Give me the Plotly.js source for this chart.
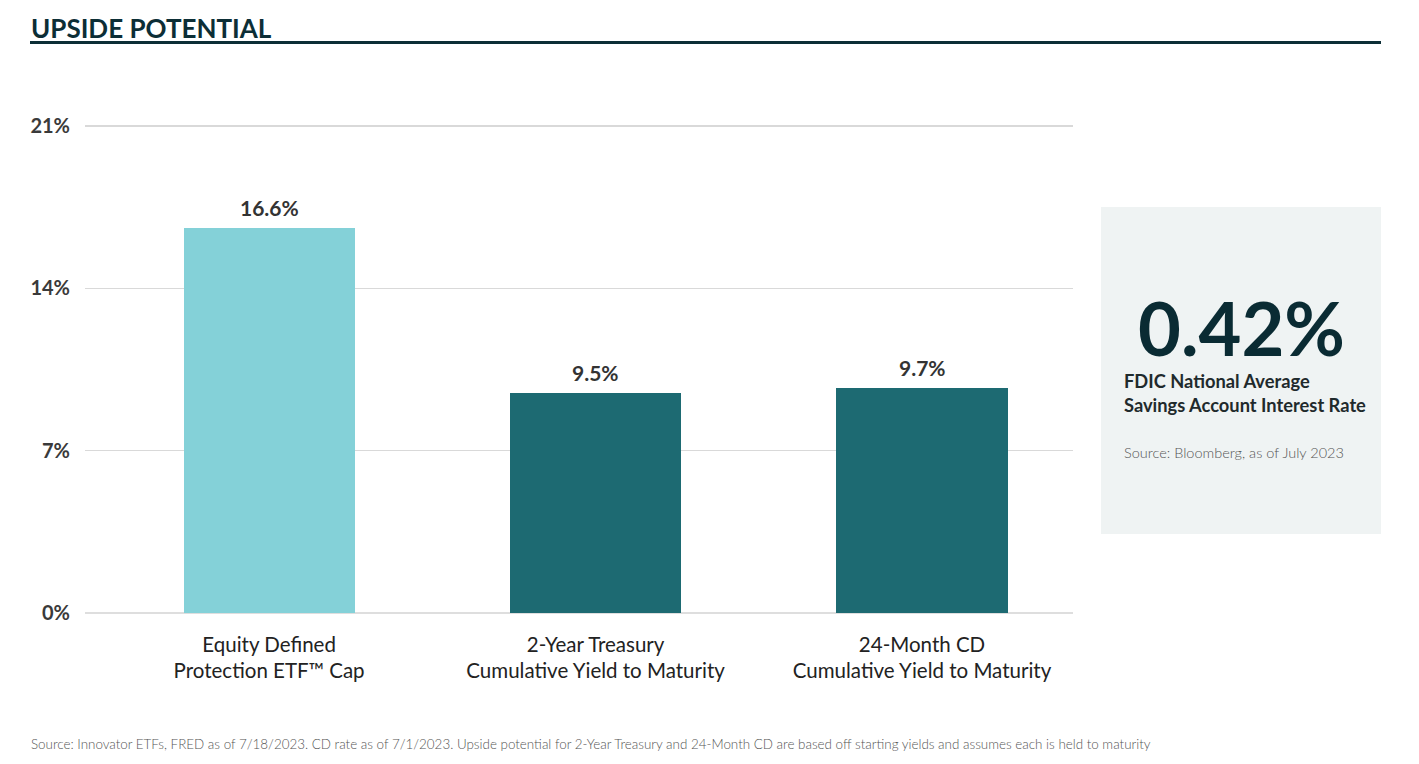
<!DOCTYPE html>
<html>
<head>
<meta charset="utf-8">
<script src="https://cdn.plot.ly/plotly-3.0.1.min.js"></script>
<style>
  html, body { margin: 0; padding: 0; background: #fff; }
  #chart { width: 1419px; height: 764px; }
</style>
</head>
<body>
<div id="chart"></div>
<script>
// Upside potential chart data
var categories = [
  "Equity Defined<br>Protection ETF™ Cap",
  "2-Year Treasury<br>Cumulative Yield to Maturity",
  "24-Month CD<br>Cumulative Yield to Maturity"
];
var values = [16.6, 9.5, 9.7];
var barColors = ["#84d1d8", "#1d6a72", "#1d6a72"];
var yTicks = [0, 7, 14, 21];
var yTickText = ["0%", "7%", "14%", "21%"];

var calloutValue = "0.42%";
var calloutLabel = "FDIC National Average<br>Savings Account Interest Rate";
var calloutSource = "Source: Bloomberg, as of July 2023";
var footNote = "Source: Innovator ETFs, FRED as of 7/18/2023. CD rate as of 7/1/2023. Upside potential for 2-Year Treasury and 24-Month CD are based off starting yields and assumes each is held to maturity";

var M = { l: 85, r: 346, t: 123, b: 151 };
var W = 1419, H = 764;
var PW = W - M.l - M.r, PH = H - M.t - M.b;
// pixel -> paper helpers for page furniture
function xp(px) { return (px - M.l) / PW; }
function yp(py) { return (H - M.b - py) / PH; }
// keep 21% on y=126 while leaving room so its gridline is drawn
var yTop = 21 * PH / (H - M.b - 126);

var DARK = "#0c2e36";

var trace = {
  type: "bar",
  x: categories,
  y: values,
  width: 0.524,
  marker: { color: barColors },
  hoverinfo: "skip"
};

var annotations = values.map(function(v, i) {
  return {
    x: categories[i], y: v, xref: "x", yref: "y",
    text: "<b>" + v.toFixed(1) + "%</b>", showarrow: false,
    yanchor: "bottom", yshift: 6,
    font: { family: "Lato", size: 21, color: "#333333" }
  };
});

annotations.push(
  { xref: "paper", yref: "paper", x: xp(29), y: yp(28), xanchor: "left", yanchor: "middle",
    text: "<b>UPSIDE POTENTIAL</b>", showarrow: false,
    font: { family: "Lato", size: 26, color: DARK, weight: 900 } },
  { xref: "paper", yref: "paper", x: xp(1241), y: yp(327), xanchor: "center", yanchor: "middle",
    text: "<b>" + calloutValue + "</b>", showarrow: false,
    font: { family: "Lato", size: 74, color: "#0a2b33", weight: 900 } },
  { xref: "paper", yref: "paper", x: xp(1122), y: yp(393), xanchor: "left", yanchor: "middle", align: "left",
    text: "<b>" + calloutLabel + "</b>", showarrow: false,
    font: { family: "Lato", size: 18.3, color: "#1f2a2c" } },
  { xref: "paper", yref: "paper", x: xp(1122), y: yp(452), xanchor: "left", yanchor: "middle",
    text: calloutSource, showarrow: false,
    font: { family: "Lato", size: 14.5, color: "#555555", weight: 300 } },
  { xref: "paper", yref: "paper", x: xp(29), y: yp(744), xanchor: "left", yanchor: "middle",
    text: footNote, showarrow: false,
    font: { family: "Lato", size: 13.4, color: "#555555", weight: 300 } }
);

var layout = {
  width: W, height: H,
  margin: M,
  paper_bgcolor: "#ffffff",
  plot_bgcolor: "#ffffff",
  showlegend: false,
  bargap: 0,
  xaxis: {
    range: [-0.564, 2.4625],
    showgrid: false, zeroline: false, showline: false,
    ticks: "", ticklabelstandoff: 17,
    tickfont: { family: "Lato", size: 20.5, color: "#222222" },
    fixedrange: true
  },
  yaxis: {
    range: [0, yTop],
    tickvals: yTicks, ticktext: yTickText,
    showgrid: true, gridcolor: "#d9d9d9", gridwidth: 1.2,
    zeroline: true, zerolinecolor: "#dedede", zerolinewidth: 2,
    showline: false, ticks: "", ticklabelstandoff: 14,
    tickfont: { family: "Lato", size: 20, color: "#3a3a3a", weight: 700 },
    fixedrange: true
  },
  shapes: [
    { type: "line", xref: "paper", yref: "paper", x0: xp(30), x1: xp(1381), y0: yp(42.5), y1: yp(42.5),
      line: { color: DARK, width: 3 } },
    { type: "rect", xref: "paper", yref: "paper", x0: xp(1101), x1: xp(1381), y0: yp(534), y1: yp(207),
      fillcolor: "#eff3f3", line: { width: 0 }, layer: "below" }
  ],
  annotations: annotations
};

Plotly.newPlot("chart", [trace], layout, { displayModeBar: false, staticPlot: true });
</script>
</body>
</html>
